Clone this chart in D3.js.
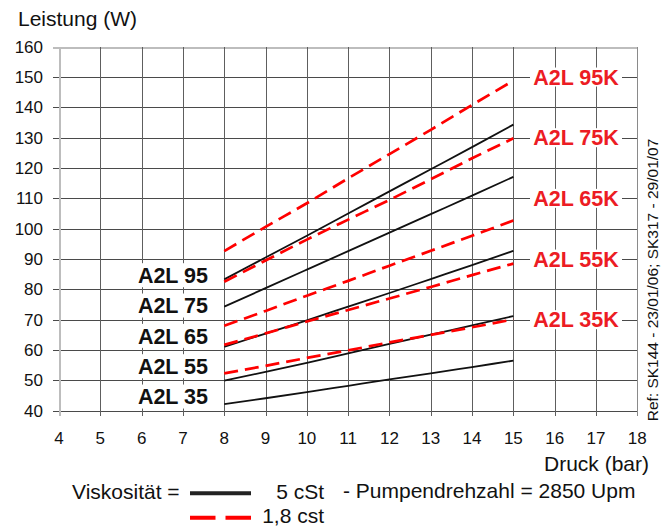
<!DOCTYPE html>
<html><head><meta charset="utf-8">
<script src="https://cdn.jsdelivr.net/npm/d3@7"></script>
<style>body{margin:0;background:#fff}svg{display:block}text{font-family:"Liberation Sans",Arial,sans-serif}</style>
</head><body>
<svg id="c" width="667" height="526"></svg>
<script>
// ---- data ----
const pressure = [8, 9, 10, 11, 12, 13, 14, 15];
const xTicks = [4,5,6,7,8,9,10,11,12,13,14,15,16,17,18];
const yTicks = [40,50,60,70,80,90,100,110,120,130,140,150,160];
// Viskosität 5 cSt (solid black)
const solid35 = [42.2, 44.1, 46.1, 48.2, 50.3, 52.3, 54.4, 56.5];
const solid55 = [49.9, 52.8, 55.8, 58.9, 62.0, 65.1, 68.1, 71.2];
const solid65 = [61.1, 65.4, 69.8, 74.3, 78.8, 83.4, 88.0, 92.7];
const solid75 = [74.3, 80.4, 86.5, 92.6, 98.7, 104.8, 110.9, 117.1];
const solid95 = [83.3, 90.5, 97.7, 105.0, 112.3, 119.6, 126.9, 134.3];
// Viskosität 1,8 cSt (dashed red)
const dash35 = [52.3, 54.8, 57.4, 59.9, 62.5, 65.0, 67.5, 70.1];
const dash55 = [61.7, 65.5, 69.4, 73.2, 77.0, 80.8, 84.7, 88.5];
const dash65 = [68.0, 72.9, 77.9, 82.8, 87.8, 92.7, 97.7, 102.7];
const dash75 = [82.5, 89.5, 96.4, 103.0, 109.5, 116.3, 123.2, 129.8];
const dash95 = [92.6, 100.6, 108.4, 116.6, 124.6, 132.6, 140.8, 148.8];
const solidSeries = [solid35, solid55, solid65, solid75, solid95];
const dashSeries = [dash35, dash55, dash65, dash75, dash95];
const leftLabels = ["A2L 95", "A2L 75", "A2L 65", "A2L 55", "A2L 35"];
const leftLabelValues = [85, 75, 65, 55, 45];
const rightLabels = ["A2L 95K", "A2L 75K", "A2L 65K", "A2L 55K", "A2L 35K"];
const rightLabelValues = [150, 130, 110, 90, 70];

// ---- drawing ----
const svg = d3.select("#c");
const x = d3.scaleLinear().domain([4, 18]).range([59, 637.3]);
const y = d3.scaleLinear().domain([40, 160]).range([410.7, 46.7]);

// grid: horizontal
const g = svg.append("g").attr("shape-rendering", "crispEdges");
g.selectAll("line.h").data(yTicks).join("line")
  .attr("x1", x(4) - 6).attr("x2", x(18))
  .attr("y1", d => Math.round(y(d)) + 0.5).attr("y2", d => Math.round(y(d)) + 0.5)
  .attr("stroke", d => d === 160 ? "#bdbdbd" : "#4a4a4a")
  .attr("stroke-width", d => d === 160 ? 2 : 1);
// grid: vertical
g.selectAll("line.v").data(xTicks).join("line")
  .attr("x1", d => Math.round(x(d)) + 0.5).attr("x2", d => Math.round(x(d)) + 0.5)
  .attr("y1", y(160)).attr("y2", y(40) + 5)
  .attr("stroke", d => d === 4 ? "#bdbdbd" : (d === 18 ? "#8a8a8a" : "#5e5e5e"))
  .attr("stroke-width", d => d === 4 ? 2 : 1);

// tick labels
svg.selectAll("text.yt").data(yTicks).join("text")
  .attr("x", 43).attr("y", d => y(d)).attr("dy", "0.36em")
  .attr("text-anchor", "end").attr("font-size", 17).attr("fill", "#111")
  .text(d => d);
svg.selectAll("text.xt").data(xTicks).join("text")
  .attr("x", d => x(d)).attr("y", 437.5).attr("dy", "0.36em")
  .attr("text-anchor", "middle").attr("font-size", 17).attr("fill", "#111")
  .text(d => d);

// axis titles
svg.append("text").attr("x", 18).attr("y", 18).attr("dy", "0.36em")
  .attr("font-size", 21).attr("fill", "#111").text("Leistung (W)");
svg.append("text").attr("x", 649).attr("y", 463.5).attr("dy", "0.36em")
  .attr("text-anchor", "end").attr("font-size", 21).attr("fill", "#111").text("Druck (bar)");

// curves
const line = d3.line().x((d, i) => x(pressure[i])).y(d => y(d)).curve(d3.curveMonotoneX);
svg.append("g").selectAll("path").data(solidSeries).join("path")
  .attr("d", line).attr("fill", "none").attr("stroke", "#111").attr("stroke-width", 1.8);
svg.append("g").selectAll("path").data(dashSeries).join("path")
  .attr("d", line).attr("fill", "none").attr("stroke", "#ff0000").attr("stroke-width", 2.7)
  .attr("stroke-dasharray", "14,7");

// left labels (black, white background)
const lg = svg.append("g");
leftLabels.forEach((t, i) => {
  const cy = y(leftLabelValues[i]) + 1;
  lg.append("rect").attr("x", 134).attr("y", cy - 12).attr("width", 77).attr("height", 24).attr("fill", "#fff");
  lg.append("text").attr("x", 208).attr("y", cy).attr("dy", "0.36em")
    .attr("text-anchor", "end").attr("font-size", 21.5).attr("font-weight", "bold")
    .attr("fill", "#111").text(t);
});
// right labels (red, white background)
const rg = svg.append("g");
rightLabels.forEach((t, i) => {
  const cy = y(rightLabelValues[i]);
  rg.append("rect").attr("x", 530).attr("y", cy - 9.5).attr("width", 92).attr("height", 19).attr("fill", "#fff");
  rg.append("text").attr("x", 576).attr("y", cy).attr("dy", "0.36em")
    .attr("text-anchor", "middle").attr("font-size", 21.5).attr("font-weight", "bold")
    .attr("fill", "#ec1c24").text(t);
});

// reference text (vertical)
svg.append("text").attr("transform", "translate(652,280) rotate(-90)")
  .attr("dy", "0.36em").attr("text-anchor", "middle").attr("font-size", 15.5).attr("fill", "#111")
  .text("Ref: SK144 - 23/01/06; SK317 - 29/01/07");

// legend
svg.append("text").attr("x", 72).attr("y", 491.7).attr("dy", "0.36em")
  .attr("font-size", 21).attr("fill", "#111").text("Viskosität =");
svg.append("line").attr("x1", 190).attr("x2", 251).attr("y1", 493.3).attr("y2", 493.3)
  .attr("stroke", "#222").attr("stroke-width", 4);
svg.append("text").attr("x", 324).attr("y", 491.7).attr("dy", "0.36em")
  .attr("text-anchor", "end").attr("font-size", 21).attr("fill", "#111").text("5 cSt");
svg.append("line").attr("x1", 190).attr("x2", 251).attr("y1", 517.7).attr("y2", 517.7)
  .attr("stroke", "#ff0000").attr("stroke-width", 4).attr("stroke-dasharray", "25.5,10");
svg.append("text").attr("x", 324).attr("y", 515).attr("dy", "0.36em")
  .attr("text-anchor", "end").attr("font-size", 21).attr("fill", "#111").text("1,8 cst");
svg.append("text").attr("x", 343).attr("y", 490).attr("dy", "0.36em")
  .attr("font-size", 21).attr("fill", "#111").text("- Pumpendrehzahl = 2850 Upm");
</script>
</body></html>
